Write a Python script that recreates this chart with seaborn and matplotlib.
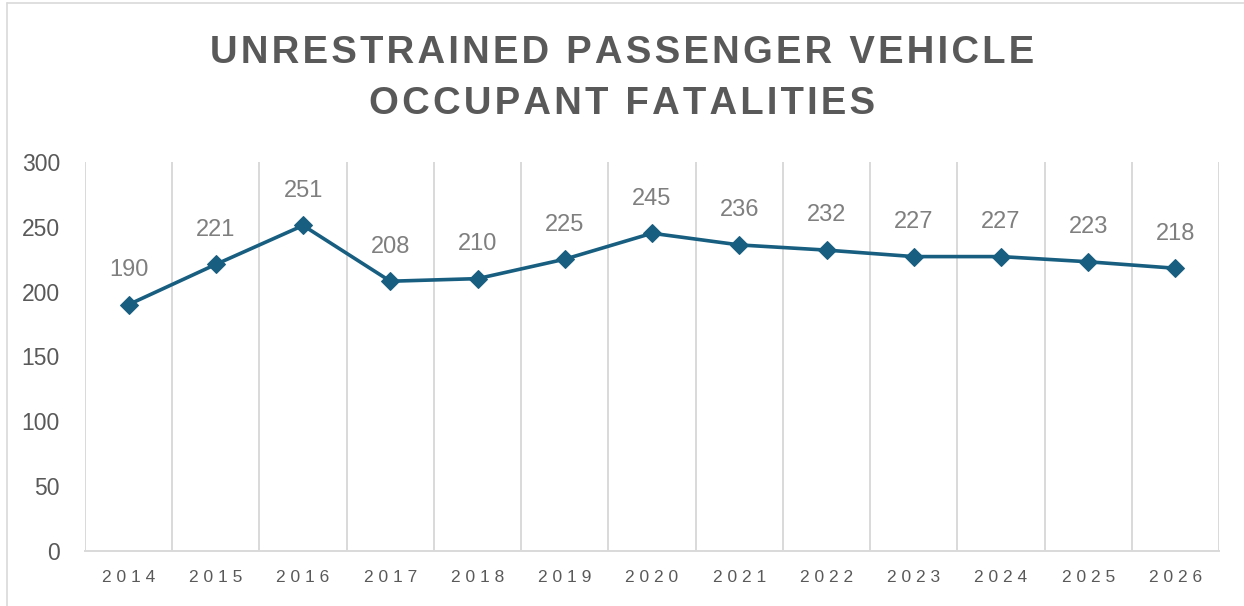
import pandas as pd
import matplotlib.pyplot as plt
import seaborn as sns
from matplotlib.lines import Line2D

# Datos
years = ["2014", "2015", "2016", "2017", "2018", "2019", "2020",
         "2021", "2022", "2023", "2024", "2025", "2026"]
fatalities = [190, 221, 251, 208, 210, 225, 245, 236, 232, 227, 227, 223, 218]
y_ticks = [0, 50, 100, 150, 200, 250, 300]
title_lines = ["UNRESTRAINED PASSENGER VEHICLE", "OCCUPANT FATALITIES"]

df = pd.DataFrame({"year": years, "value": fatalities})
df["pos"] = range(len(df))

line_color = "#175E80"
text_gray = "#595959"
label_gray = "#7F7F7F"
grid_gray = "#D9D9D9"


def spaced(text, sep="\u200a"):
    # simular el espaciado entre letras
    return sep.join(text)


sns.set_theme(style="white")
plt.rcParams["font.family"] = ["Liberation Sans", "DejaVu Sans"]

fig = plt.figure(figsize=(12.44, 6.06), dpi=100)
ax = fig.add_axes([0.0683, 0.0908, 0.9117, 0.642])

sns.lineplot(data=df, x="pos", y="value", ax=ax, color=line_color,
             linewidth=2.6, marker="D", markersize=9.5,
             markeredgecolor=line_color, markerfacecolor=line_color)

# Etiquetas de datos
for x, v in zip(df["pos"], df["value"]):
    ax.annotate(str(v), (x, v), xytext=(0, 17), textcoords="offset points",
                ha="center", va="bottom", fontsize=17, color=label_gray)

ax.set_xlim(-0.5, len(years) - 0.5)
ax.set_ylim(0, 300)
ax.set_yticks(y_ticks)
ax.set_yticklabels([str(t) for t in y_ticks], fontsize=16.5, color=text_gray)
ax.set_xticks(df["pos"])
ax.set_xticklabels([spaced(y, " ") for y in years], fontsize=12.5,
                   color=text_gray)
ax.tick_params(axis="both", length=0)
ax.tick_params(axis="y", pad=18)
ax.tick_params(axis="x", pad=14)
ax.set_xlabel("")
ax.set_ylabel("")

# Líneas verticales entre categorías
for b in [p - 0.5 for p in range(len(years) + 1)]:
    ax.axvline(b, color=grid_gray, linewidth=1.4, zorder=0)

for side in ["top", "right", "left"]:
    ax.spines[side].set_visible(False)
ax.spines["bottom"].set_color(grid_gray)
ax.spines["bottom"].set_linewidth(1.4)

# Título
fig.text(0.5, 0.912, spaced(title_lines[0]), ha="center", va="center",
         fontsize=27.5, fontweight="bold", color=text_gray)
fig.text(0.5, 0.829, spaced(title_lines[1]), ha="center", va="center",
         fontsize=27.5, fontweight="bold", color=text_gray)

# Borde del gráfico (arriba e izquierda)
fig.add_artist(Line2D([0.0056, 1.0], [0.995, 0.995], color=grid_gray,
                      linewidth=1.2, transform=fig.transFigure))
fig.add_artist(Line2D([0.0056, 0.0056], [0.0, 0.995], color=grid_gray,
                      linewidth=1.2, transform=fig.transFigure))

plt.savefig("out.png", dpi=100)
plt.close()
